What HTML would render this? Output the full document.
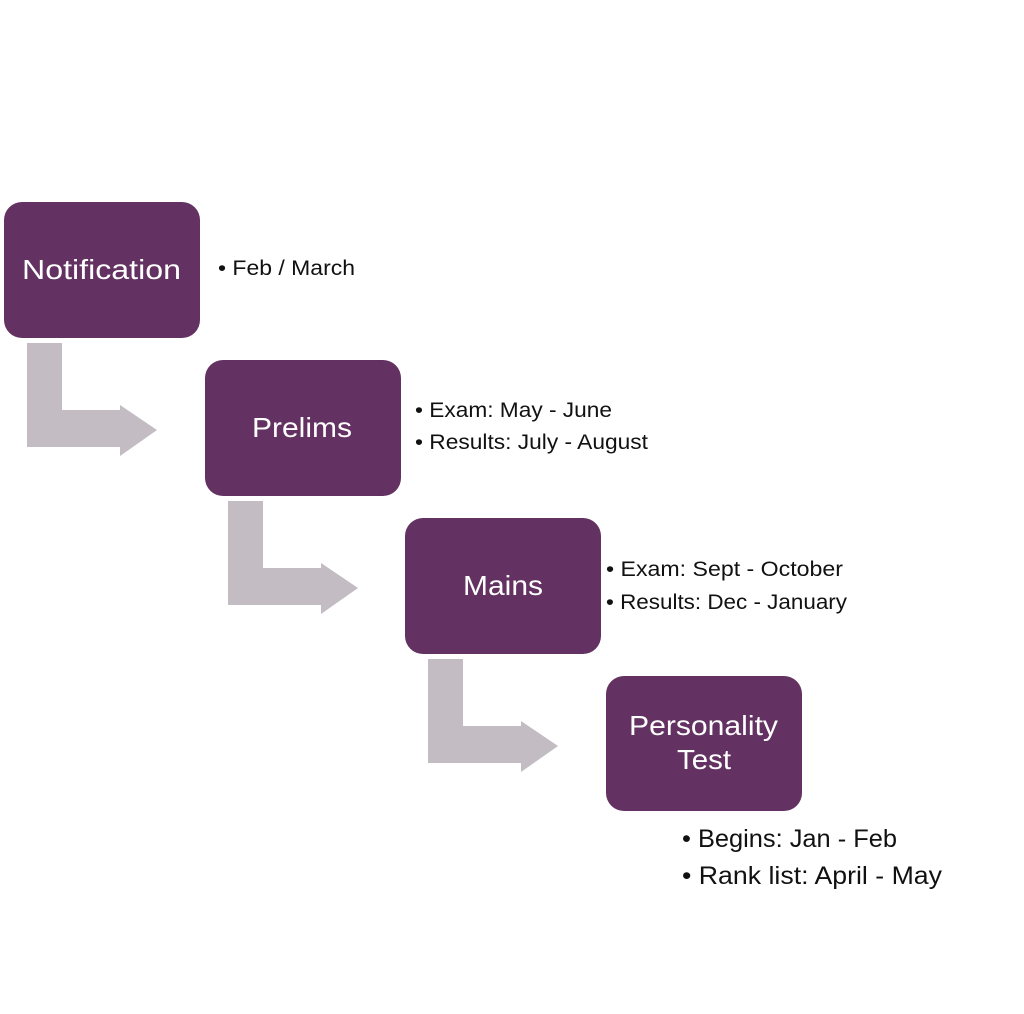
<!DOCTYPE html>
<html><head><style>body{margin:0;background:#fff}svg{display:block}</style></head><body>
<svg width="1024" height="1014" xmlns="http://www.w3.org/2000/svg" font-family="Liberation Sans, sans-serif">
<rect width="1024" height="1014" fill="#fff"/>
<g fill="#c3bcc3">
<path d="M27 343H62V410H120V405L157 430L120 456V447H27Z"/>
<path d="M228 501H263V568H321V563L358 588L321 614V605H228Z"/>
<path d="M428 659H463V726H521V721L558 746L521 772V763H428Z"/>
</g>
<g fill="#643262">
<rect x="4" y="202" width="196" height="136" rx="18"/>
<rect x="205" y="360" width="196" height="136" rx="18"/>
<rect x="405" y="518" width="196" height="136" rx="18"/>
<rect x="606" y="676" width="196" height="135" rx="18"/>
</g>
<g fill="#fff" font-size="28" lengthAdjust="spacingAndGlyphs">
<text x="22" y="279" textLength="159" lengthAdjust="spacingAndGlyphs">Notification</text>
<text x="252" y="437" textLength="100" lengthAdjust="spacingAndGlyphs">Prelims</text>
<text x="463" y="595" textLength="80" lengthAdjust="spacingAndGlyphs">Mains</text>
<text x="629" y="735" textLength="149" lengthAdjust="spacingAndGlyphs">Personality</text>
<text x="677" y="769" textLength="54" lengthAdjust="spacingAndGlyphs">Test</text>
</g>
<g fill="#111" font-size="21">
<text x="218" y="275" textLength="137" lengthAdjust="spacingAndGlyphs">• Feb / March</text>
<text x="415" y="417" textLength="197" lengthAdjust="spacingAndGlyphs">• Exam: May - June</text>
<text x="415" y="449" textLength="233" lengthAdjust="spacingAndGlyphs">• Results: July - August</text>
<text x="606" y="576" textLength="237" lengthAdjust="spacingAndGlyphs">• Exam: Sept - October</text>
<text x="606" y="609" textLength="241" lengthAdjust="spacingAndGlyphs">• Results: Dec - January</text>
<text x="682" y="847" font-size="25" textLength="215" lengthAdjust="spacingAndGlyphs">• Begins: Jan - Feb</text>
<text x="682" y="884" font-size="25" textLength="260" lengthAdjust="spacingAndGlyphs">• Rank list: April - May</text>
</g>
</svg>
</body></html>
